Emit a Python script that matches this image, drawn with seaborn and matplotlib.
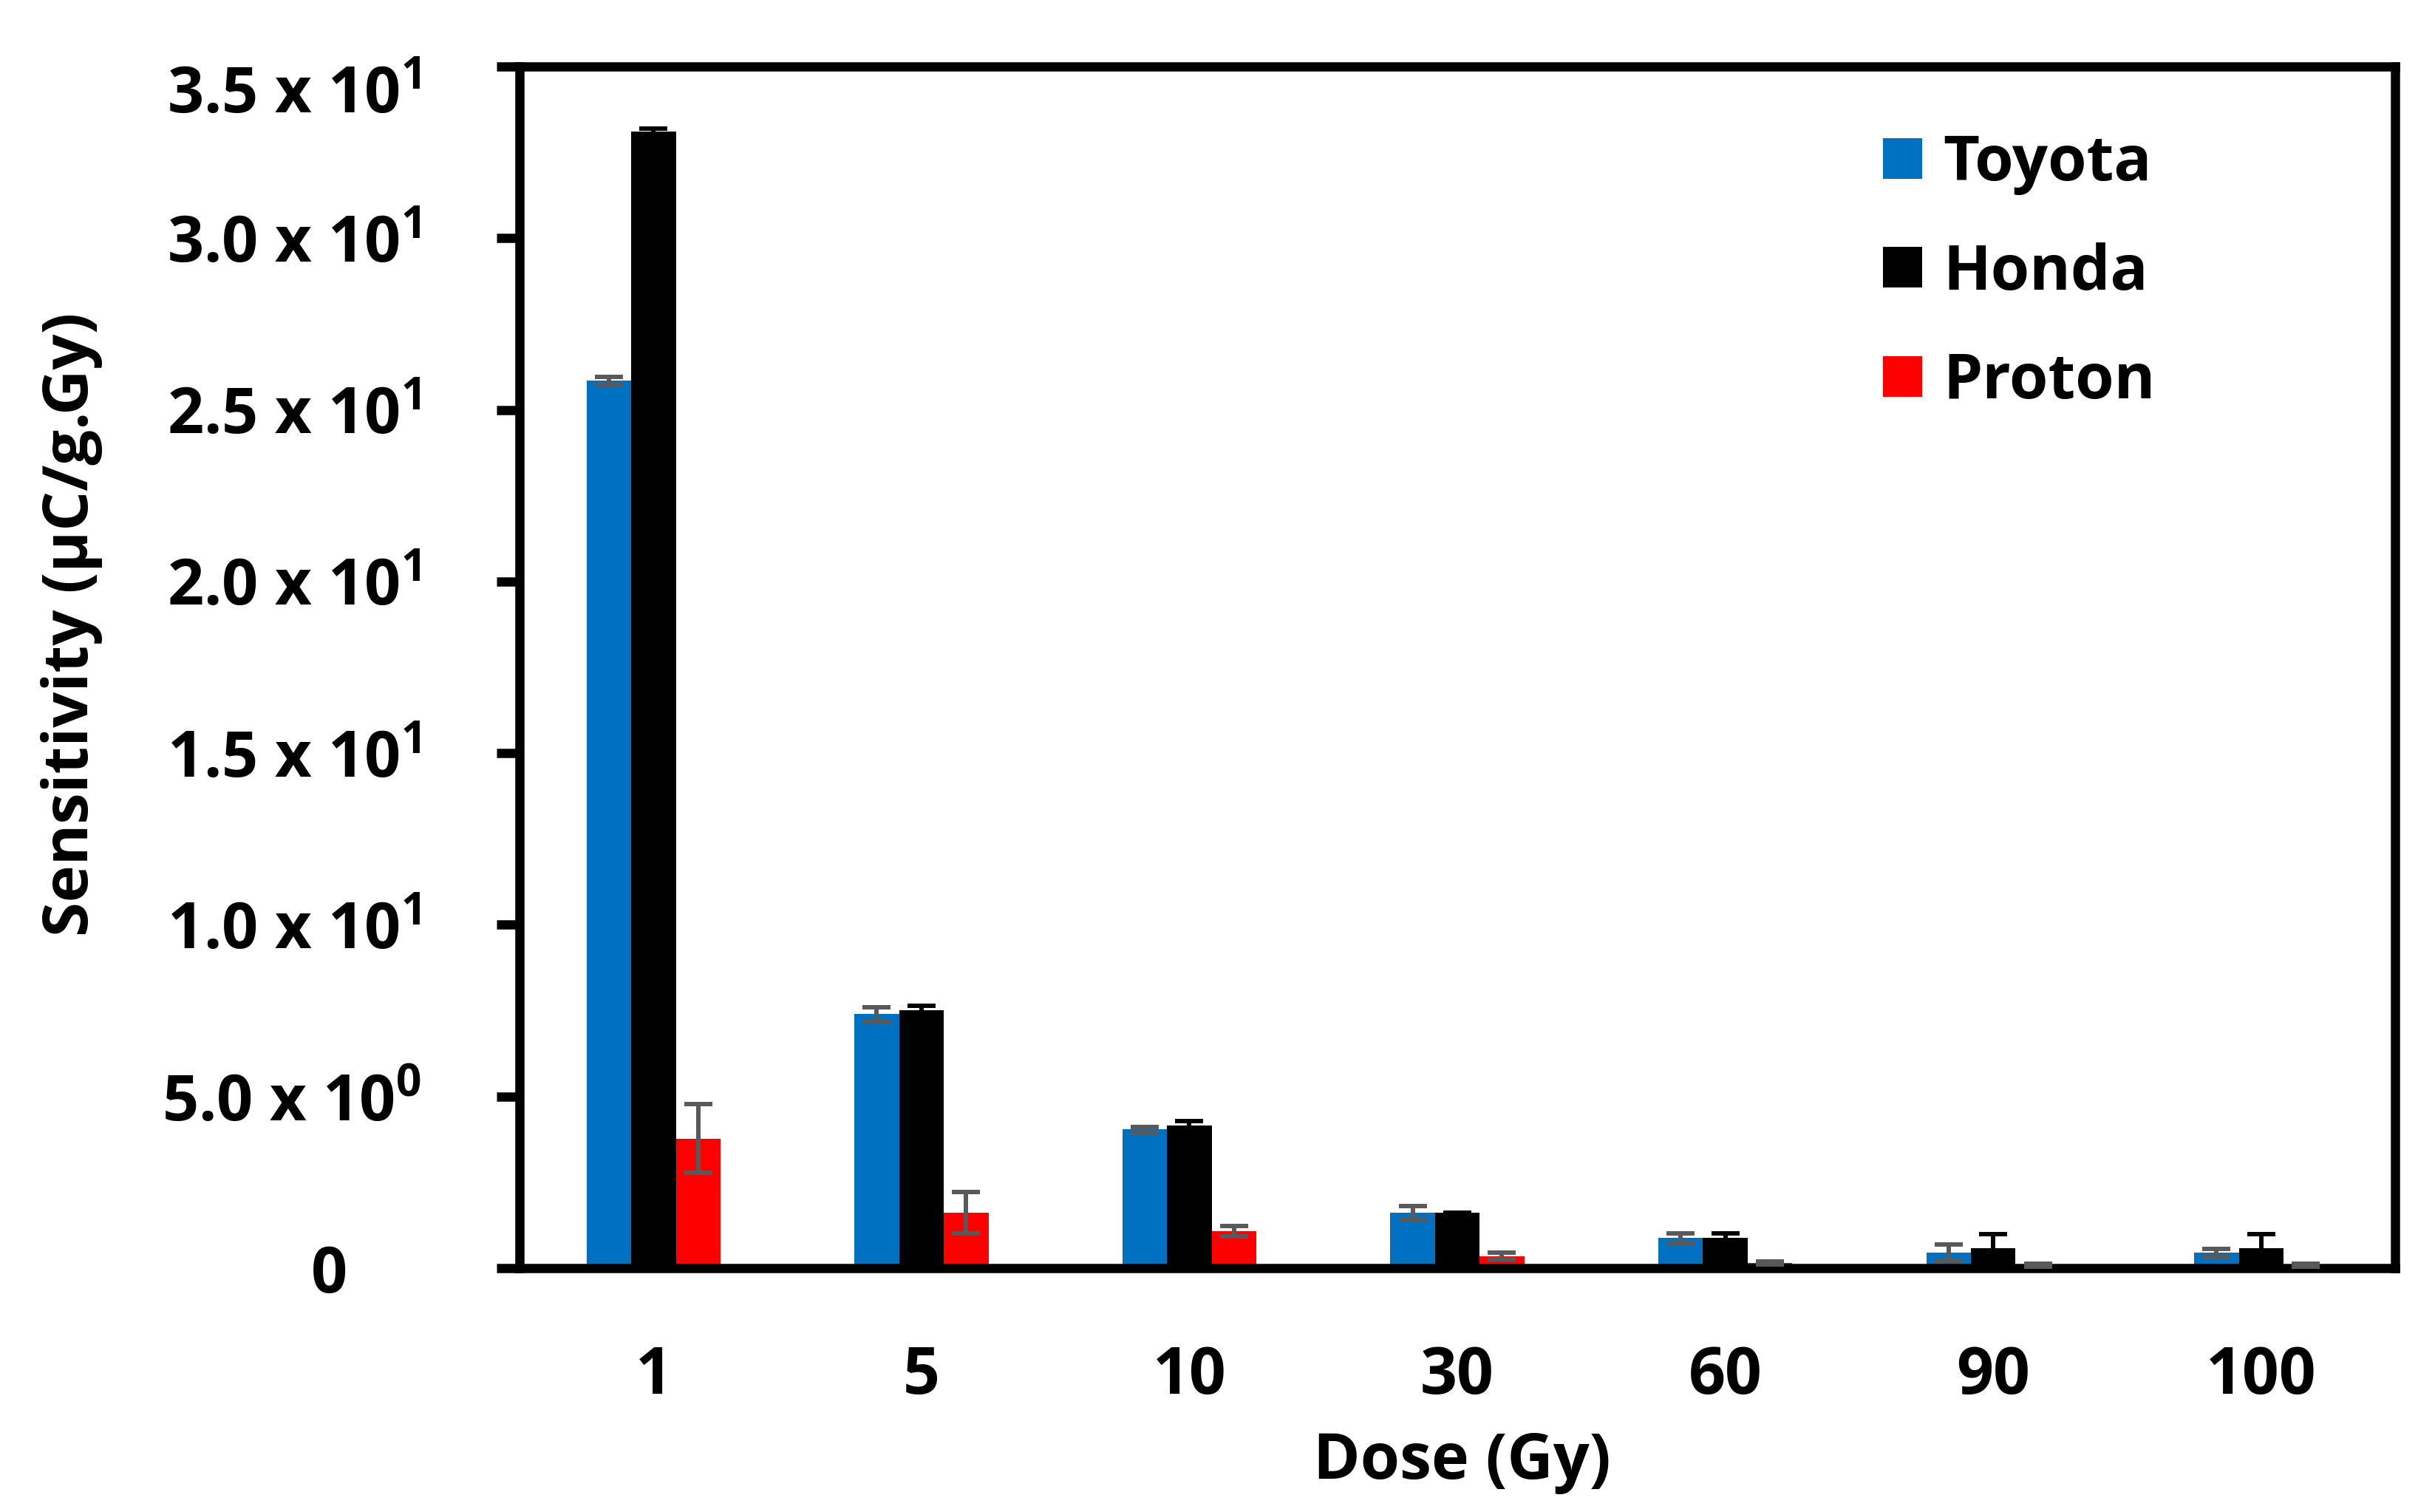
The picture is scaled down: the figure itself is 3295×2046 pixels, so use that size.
import matplotlib
matplotlib.use("Agg")
import matplotlib.pyplot as plt
import matplotlib.transforms as mtransforms
import seaborn as sns
import pandas as pd
import numpy as np

# ---------------- data ----------------
doses = ["1", "5", "10", "30", "60", "90", "100"]
series = ["Toyota", "Honda", "Proton"]

toyota = [25.85, 7.40, 4.04, 1.61, 0.88, 0.45, 0.45]
toyota_err = [0.10, 0.20, 0.08, 0.20, 0.14, 0.23, 0.12]
honda = [33.10, 7.52, 4.16, 1.61, 0.88, 0.59, 0.59]
honda_err = [0.10, 0.12, 0.12, 0.00, 0.14, 0.39, 0.39]
proton = [3.77, 1.61, 1.08, 0.35, 0.15, 0.08, 0.08]
proton_err = [1.00, 0.60, 0.15, 0.10, 0.05, 0.04, 0.04]

colors = ["#0070C0", "#000000", "#FF0000"]
err_colors = ["#595959", "#000000", "#595959"]

ytick_vals = [0, 5, 10, 15, 20, 25, 30, 35]
ytick_labels = ["0",
                r"5.0 x 10$^{\mathrm{0}}$",
                r"1.0 x 10$^{\mathrm{1}}$",
                r"1.5 x 10$^{\mathrm{1}}$",
                r"2.0 x 10$^{\mathrm{1}}$",
                r"2.5 x 10$^{\mathrm{1}}$",
                r"3.0 x 10$^{\mathrm{1}}$",
                r"3.5 x 10$^{\mathrm{1}}$"]

x_label = "Dose (Gy)"
y_label = "Sensitivity (µC/g.Gy)"

# ---------------- style ----------------
sns.set_theme(style="white")
plt.rcParams["font.family"] = ["Open Sans", "DejaVu Sans"]
plt.rcParams["font.weight"] = "bold"
plt.rcParams["axes.labelweight"] = "bold"
plt.rcParams["text.color"] = "black"
plt.rcParams["mathtext.fontset"] = "custom"
plt.rcParams["mathtext.rm"] = "Open Sans"
plt.rcParams["mathtext.bf"] = "Open Sans:bold"

df = pd.DataFrame({
    "Dose": doses * 3,
    "Series": np.repeat(series, len(doses)),
    "Value": toyota + honda + proton,
})
errors = [toyota_err, honda_err, proton_err]

W, H = 3295, 2046
fig = plt.figure(figsize=(W / 100, H / 100), dpi=100)
L, R, T, B = 703, 3241, 90, 1716
ax = fig.add_axes([L / W, 1 - B / H, (R - L) / W, (B - T) / H])

sns.barplot(data=df, x="Dose", y="Value", hue="Series", order=doses,
            hue_order=series, palette=colors, width=0.5, errorbar=None,
            saturation=1, linewidth=0, ax=ax)

# error bars placed on the bars seaborn drew
for cont, errs, ec in zip(ax.containers, errors, err_colors):
    xs = [p.get_x() + p.get_width() / 2 for p in cont]
    ys = [p.get_height() for p in cont]
    ax.errorbar(xs, ys, yerr=errs, fmt="none", ecolor=ec, elinewidth=4.3,
                capsize=14, capthick=4.3, zorder=3)

ax.set_ylim(0, 35)
ax.set_xlim(-0.5, len(doses) - 0.5)
ax.set_yticks(ytick_vals)
ax.set_yticklabels(ytick_labels)

for side in ["left", "right", "top", "bottom"]:
    ax.spines[side].set_visible(True)
    ax.spines[side].set_color("black")
    ax.spines[side].set_linewidth(9)

ax.tick_params(axis="y", direction="out", length=22, width=9, color="black",
               labelsize=62, pad=74, left=True, labelcolor="black")
ax.tick_params(axis="x", length=0, labelsize=63, pad=74, bottom=True,
               labelcolor="black")
for lab in ax.get_xticklabels() + ax.get_yticklabels():
    lab.set_fontweight("bold")

ax.set_xlabel(x_label, fontsize=62, fontweight="bold", color="black")
ax.set_ylabel(y_label, fontsize=61, fontweight="bold", color="black")
ax.xaxis.set_label_coords((1978 - L) / (R - L), (B - 1935) / (B - T))
ax.yaxis.set_label_coords((139 - L) / (R - L), (B - 845) / (B - T))

# label nudges (as in the original layout)
ylabs = ax.get_yticklabels()
ylabs[-1].set_transform(ylabs[-1].get_transform() +
                        mtransforms.ScaledTranslation(0, -0.30, fig.dpi_scale_trans))
ylabs[0].set_transform(ylabs[0].get_transform() +
                       mtransforms.ScaledTranslation(-1.0, 0, fig.dpi_scale_trans))

handles, labels = ax.get_legend_handles_labels()
if ax.get_legend() is not None:
    ax.get_legend().remove()
leg = fig.legend(handles, labels, loc="upper left",
                 bbox_to_anchor=(2548 / W, 1 - 180 / H),
                 bbox_transform=fig.transFigure,
                 frameon=False, handlelength=0.62, handleheight=0.62,
                 handletextpad=0.34, labelspacing=0.75, borderpad=0,
                 borderaxespad=0, prop={"weight": "bold", "size": 61})
for t in leg.get_texts():
    t.set_color("black")

fig.savefig("out.png", dpi=100)
